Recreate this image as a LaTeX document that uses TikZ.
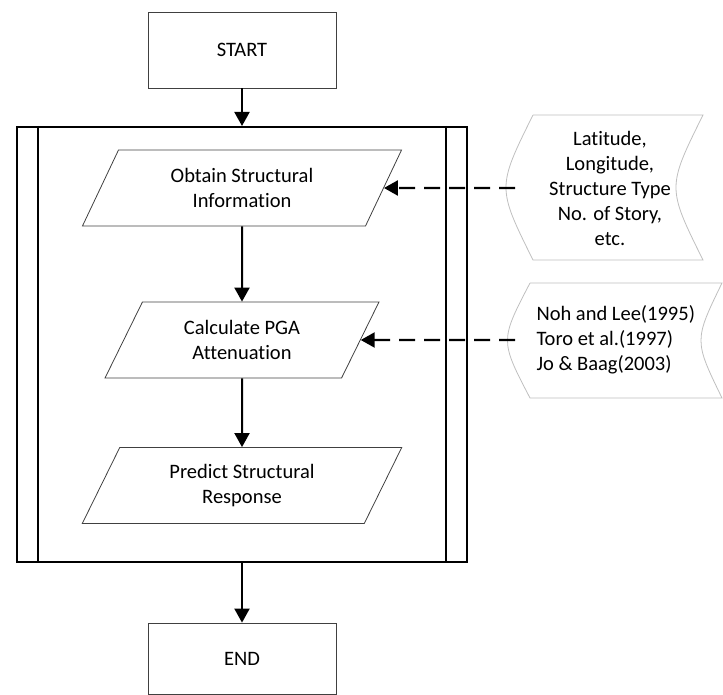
\documentclass[tikz,border=0pt]{standalone}
\usepackage{fontspec}
\setmainfont[Ligatures=NoCommon]{Carlito}
\usetikzlibrary{shapes.geometric,arrows.meta}

\begin{document}
\begin{tikzpicture}[x=1pt,y=-1pt,
  font=\fontsize{20.5}{25}\selectfont,
  term/.style={draw=black!75,line width=0.8pt,minimum width=188pt,minimum height=76pt},
  io/.style={trapezium,trapezium stretches=true,draw=black!75,line width=0.8pt,minimum height=76pt,align=center},
  flow/.style={line width=2pt,-{Triangle[width=15pt,length=14pt]}},
  feed/.style={flow,line width=2.4pt,dash pattern=on 16pt off 9pt},
  store/.style={draw=black!25,line width=0.8pt}]
  \useasboundingbox (0,0) rectangle (723,695);
  \node[term] (start) at (242,50) {START};
  \node[draw,line width=2pt,minimum width=450pt,minimum height=435pt] (loop) at (242,344.5) {};
  \foreach \s/\a in {22/west,-22/east}
    \draw[line width=2pt] ([xshift=\s pt]loop.north \a) -- ([xshift=\s pt]loop.south \a);
  \node[io,trapezium left angle=64.7,trapezium right angle=115.3,minimum width=320pt] (obtain) at (242,188) {Obtain Structural\\Information};
  \node[io,trapezium left angle=63.4,trapezium right angle=116.6,minimum width=274pt] (calc) at (242,340) {Calculate PGA\\Attenuation};
  \node[io,trapezium left angle=64.7,trapezium right angle=115.3,minimum width=320pt] (predict) at (242,485.5) {Predict Structural\\Response};
  \node[term,minimum height=71pt] (stop) at (242,658.5) {END};
  \draw[store] (533,115) -- (703,115) .. controls (667,187.5) .. (703,260) -- (533,260) .. controls (497,187.5) .. (533,115);
  \draw[store] (530,283) -- (722,283) .. controls (694,340.5) .. (722,398) -- (530,398) .. controls (500,340.5) .. (530,283);
  \node[align=center] (site) at (610,188) {Latitude,\\Longitude,\\Structure Type\\No. of Story,\\etc.};
  \node[align=left,anchor=west] (models) at (533,340) {Noh and Lee(1995)\\Toro et al.(1997)\\Jo \& Baag(2003)};
  \coordinate (siteL) at (515,188);
  \coordinate (modelsL) at (515,340);
  \draw[flow] (start) -- (loop);
  \draw[flow] (obtain) -- (calc);
  \draw[flow] (calc) -- (predict);
  \draw[flow] (loop) -- (stop);
  \draw[feed] (siteL) -- (obtain.east);
  \draw[feed] (modelsL) -- (calc.east);
\end{tikzpicture}
\end{document}
